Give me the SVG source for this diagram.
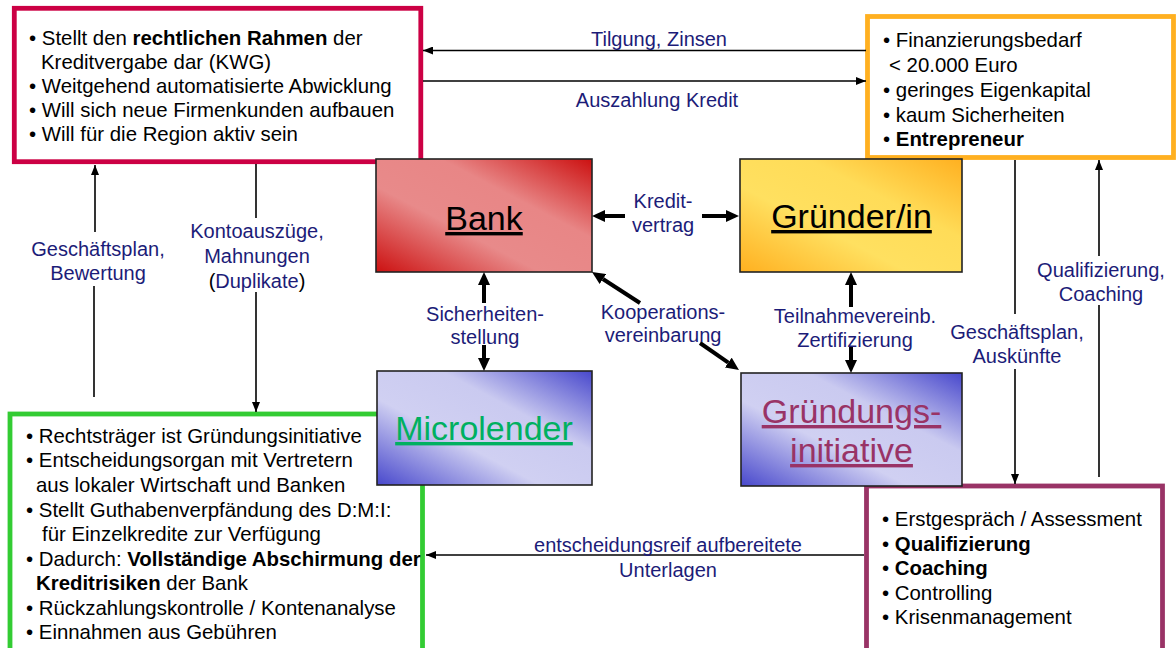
<svg xmlns="http://www.w3.org/2000/svg" width="1176" height="648" viewBox="0 0 1176 648">
<style>
text{font-family:"Liberation Sans",Arial,sans-serif;}
.t{font-size:20.4px;fill:#000;}
.b{font-weight:bold;}
.lbl{font-size:20px;fill:#1C1C78;text-anchor:middle;}
.big{font-size:34px;text-anchor:middle;text-decoration:underline;}
.thin{stroke:#000;stroke-width:1.6;fill:none;marker-end:url(#ah);}
.thinn{stroke:#000;stroke-width:1.6;fill:none;}
.thick{stroke:#000;stroke-width:4;fill:none;marker-end:url(#AH);}
.node{stroke:#222;stroke-width:1.6;}
</style>
<defs>
<marker id="ah" markerUnits="userSpaceOnUse" markerWidth="10" markerHeight="8" refX="10" refY="4" orient="auto"><path d="M0,0 L10,4 L0,8 z" fill="#000"/></marker>
<marker id="AH" markerUnits="userSpaceOnUse" markerWidth="13" markerHeight="12" refX="0" refY="6" orient="auto"><path d="M0,0 L13,6 L0,12 z" fill="#000"/></marker>
<linearGradient id="gRed" x1="0" y1="1" x2="1" y2="0"><stop offset="0" stop-color="#CC1111"/><stop offset="0.38" stop-color="#E88A8A"/><stop offset="0.65" stop-color="#E88686"/><stop offset="1" stop-color="#CC1111"/></linearGradient>
<linearGradient id="gYel" x1="0" y1="1" x2="1" y2="0"><stop offset="0" stop-color="#FFB020"/><stop offset="0.38" stop-color="#FFE060"/><stop offset="0.65" stop-color="#FFDC58"/><stop offset="1" stop-color="#FFB020"/></linearGradient>
<linearGradient id="gBlue" x1="0" y1="1" x2="1" y2="0"><stop offset="0" stop-color="#4848CC"/><stop offset="0.38" stop-color="#D0D0F2"/><stop offset="0.65" stop-color="#CACAF0"/><stop offset="1" stop-color="#4848CC"/></linearGradient>
</defs>
<rect width="1176" height="648" fill="#fff"/>

<g id="bankinfo">
<rect x="14.3" y="8.3" width="406.5" height="153.4" fill="#fff" stroke="#CC0044" stroke-width="4.8"/>
<text class="t" x="29" y="45">• Stellt den <tspan class="b">rechtlichen Rahmen</tspan> der</text>
<text class="t" x="41" y="68.5">Kreditvergabe dar (KWG)</text>
<text class="t" x="29" y="92.5">• Weitgehend automatisierte Abwicklung</text>
<text class="t" x="29" y="116.5">• Will sich neue Firmenkunden aufbauen</text>
<text class="t" x="29" y="140.5">• Will für die Region aktiv sein</text>
</g>

<g id="gruenderinfo">
<rect x="867.5" y="16.5" width="306" height="141" fill="#fff" stroke="#FFB020" stroke-width="4.8"/>
<text class="t" x="883" y="47">• Finanzierungsbedarf</text>
<text class="t" x="889" y="72">&lt; 20.000 Euro</text>
<text class="t" x="883" y="97">• geringes Eigenkapital</text>
<text class="t" x="883" y="121.5">• kaum Sicherheiten</text>
<text class="t" x="883" y="146">• <tspan class="b">Entrepreneur</tspan></text>
</g>

<g id="microinfo">
<rect x="10" y="414" width="412.5" height="260" fill="#fff" stroke="#33CC33" stroke-width="4.8"/>
<text class="t" x="26" y="443">• Rechtsträger ist Gründungsinitiative</text>
<text class="t" x="26" y="467">• Entscheidungsorgan mit Vertretern</text>
<text class="t" x="36" y="492">aus lokaler Wirtschaft und Banken</text>
<text class="t" x="26" y="517">• Stellt Guthabenverpfändung des D:M:I:</text>
<text class="t" x="42" y="541">für Einzelkredite zur Verfügung</text>
<text class="t" x="26" y="566">• Dadurch: <tspan class="b">Vollständige Abschirmung der</tspan></text>
<text class="t" x="36" y="590"><tspan class="b">Kreditrisiken</tspan> der Bank</text>
<text class="t" x="26" y="615">• Rückzahlungskontrolle / Kontenanalyse</text>
<text class="t" x="26" y="639">• Einnahmen aus Gebühren</text>
</g>

<g id="initinfo">
<rect x="866.5" y="486" width="296" height="200" fill="#fff" stroke="#993366" stroke-width="4.8"/>
<text class="t" x="882" y="526">• Erstgespräch / Assessment</text>
<text class="t" x="882" y="551">• <tspan class="b">Qualifizierung</tspan></text>
<text class="t" x="882" y="575">• <tspan class="b">Coaching</tspan></text>
<text class="t" x="882" y="599.5">• Controlling</text>
<text class="t" x="882" y="624">• Krisenmanagement</text>
</g>

<g id="bank">
<rect class="node" x="376" y="159" width="216" height="113" fill="url(#gRed)"/>
<text class="big" x="484" y="230" fill="#000">Bank</text>
</g>

<g id="gruender">
<rect class="node" x="740" y="159" width="222" height="113" fill="url(#gYel)"/>
<text class="big" x="851.5" y="228" fill="#000">Gründer/in</text>
</g>

<g id="microlender">
<rect class="node" x="377" y="371" width="215" height="114" fill="url(#gBlue)"/>
<text class="big" x="484" y="440" fill="#00B060">Microlender</text>
</g>

<g id="gruendungsinitiative">
<rect class="node" x="741" y="373" width="221" height="113" fill="url(#gBlue)"/>
<text class="big" x="851.5" y="423" fill="#993366">Gründungs-</text>
<text class="big" x="851.5" y="462" fill="#993366">initiative</text>
</g>

<g id="connectors">
<line class="thin" x1="866" y1="50.5" x2="423" y2="50.5"/>
<text class="lbl" x="659" y="46">Tilgung, Zinsen</text>
<line class="thin" x1="423" y1="81" x2="866" y2="81"/>
<text class="lbl" x="657" y="107">Auszahlung Kredit</text>

<line class="thinn" x1="94" y1="397" x2="94" y2="286"/>
<line class="thin" x1="95" y1="232" x2="95" y2="165"/>
<text class="lbl" x="98" y="256">Geschäftsplan,</text>
<text class="lbl" x="98" y="280">Bewertung</text>

<line class="thinn" x1="256" y1="164" x2="256" y2="218"/>
<line class="thin" x1="256" y1="292" x2="256" y2="412"/>
<text class="lbl" x="257" y="238">Kontoauszüge,</text>
<text class="lbl" x="257" y="263">Mahnungen</text>
<text class="lbl" x="257" y="288"><tspan fill="#000">(</tspan>Duplikate<tspan fill="#000">)</tspan></text>

<line class="thick" x1="625" y1="216" x2="605" y2="216"/>
<line class="thick" x1="702" y1="216" x2="726" y2="216"/>
<text class="lbl" x="663" y="208">Kredit-</text>
<text class="lbl" x="663" y="232">vertrag</text>

<line class="thick" x1="484" y1="303" x2="484" y2="285"/>
<line class="thick" x1="484" y1="345" x2="484" y2="358"/>
<text class="lbl" x="485" y="321">Sicherheiten-</text>
<text class="lbl" x="485" y="344">stellung</text>

<line class="thick" x1="640" y1="303" x2="602.9" y2="279"/>
<line class="thick" x1="700" y1="343" x2="728.3" y2="362.6"/>
<text class="lbl" x="663" y="319">Kooperations-</text>
<text class="lbl" x="663" y="342">vereinbarung</text>

<line class="thick" x1="851" y1="307" x2="851" y2="285"/>
<line class="thick" x1="851" y1="347" x2="851" y2="360"/>
<text class="lbl" x="855" y="323">Teilnahmevereinb.</text>
<text class="lbl" x="855" y="347">Zertifizierung</text>

<line class="thinn" x1="1015" y1="160" x2="1015" y2="314"/>
<line class="thin" x1="1015" y1="369" x2="1015" y2="484"/>
<text class="lbl" x="1017" y="339">Geschäftsplan,</text>
<text class="lbl" x="1017" y="363">Auskünfte</text>

<line class="thinn" x1="1099" y1="477" x2="1099" y2="305"/>
<line class="thin" x1="1099" y1="256" x2="1099" y2="160"/>
<text class="lbl" x="1101" y="277">Qualifizierung,</text>
<text class="lbl" x="1101" y="301">Coaching</text>

<line class="thin" x1="864" y1="555" x2="426" y2="555"/>
<text class="lbl" x="668" y="552">entscheidungsreif aufbereitete</text>
<text class="lbl" x="668" y="577">Unterlagen</text>
</g>
</svg>
